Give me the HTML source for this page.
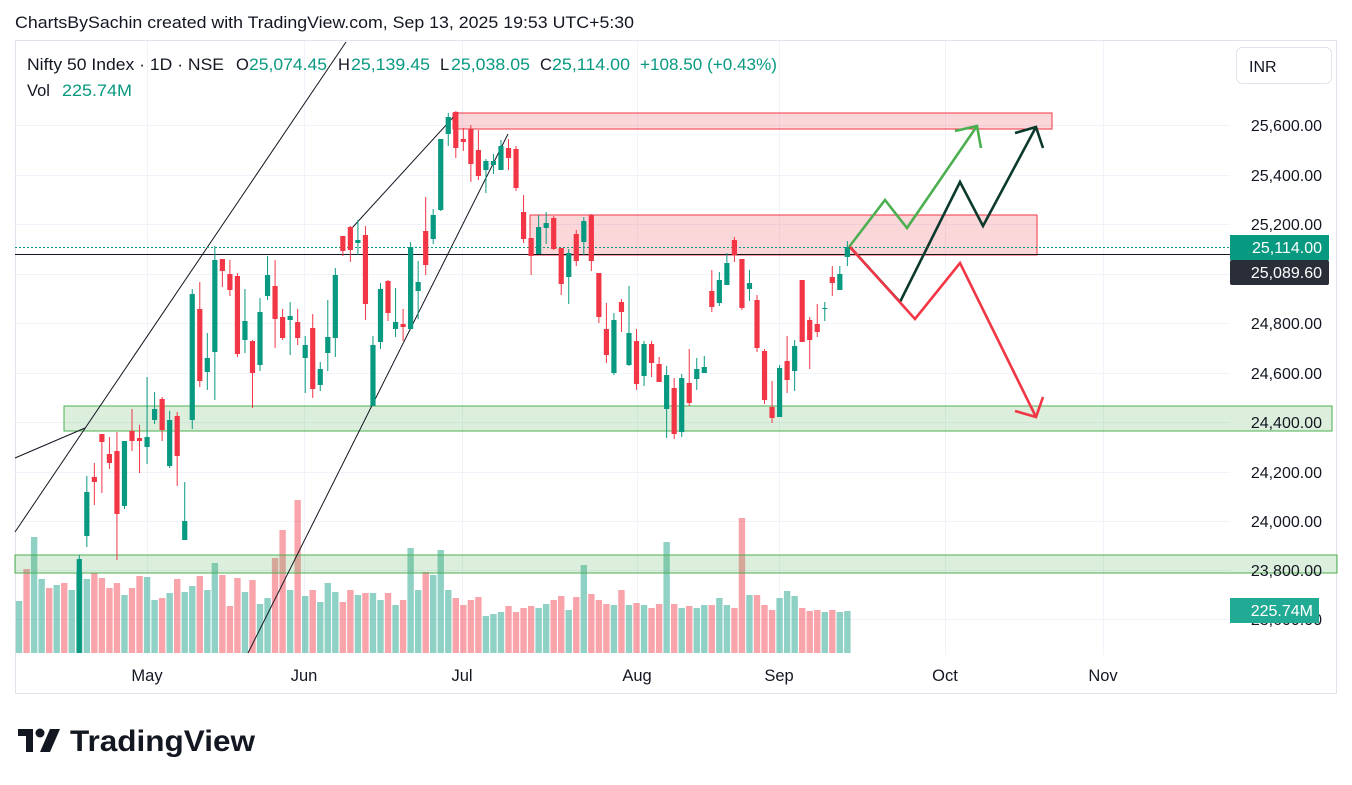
<!DOCTYPE html>
<html><head><meta charset="utf-8"><style>
body{margin:0;background:#fff;width:1352px;height:785px;overflow:hidden;font-family:"Liberation Sans",sans-serif}
svg{position:absolute;left:0;top:0}
</style></head><body>
<svg id="s" width="1352" height="785" xmlns="http://www.w3.org/2000/svg" font-family="Liberation Sans, sans-serif">
<rect x="15.5" y="40.5" width="1321" height="653" fill="#fff" stroke="#e0e3eb"/>
<g id="grid" stroke="#f0f3fa" stroke-width="1"></g>
<g id="vol"></g>
<rect x="64" y="406" width="1268" height="25" fill="rgba(76,175,80,0.2)" stroke="#4caf50" stroke-width="1"/>
<rect x="15" y="555" width="1322" height="18" fill="rgba(76,175,80,0.2)" stroke="#4caf50" stroke-width="1"/>
<rect x="453" y="113" width="599" height="16" fill="rgba(242,54,69,0.2)" stroke="#f23645" stroke-width="1"/>
<rect x="530" y="215" width="507" height="40" fill="rgba(242,54,69,0.2)" stroke="#f23645" stroke-width="1"/>
<g stroke="#131722" stroke-width="1" fill="none">
<line x1="15" y1="532" x2="346" y2="42"/>
<line x1="15" y1="458" x2="85" y2="428"/>
<line x1="352" y1="228" x2="458" y2="112"/>
<line x1="248" y1="653" x2="508" y2="134"/>
<line x1="15" y1="254.5" x2="1230" y2="254.5"/>
</g>
<line x1="15" y1="247.5" x2="1230" y2="247.5" stroke="#089981" stroke-width="1" stroke-dasharray="2,2"/>
<g id="cnd"></g>
<g fill="none" stroke-width="2.6" stroke-linejoin="miter">
<polyline points="849,247 885,200 907,228 977,126" stroke="#4caf50"/>
<polyline points="955,131 977,126 981,148" stroke="#4caf50"/>
<polyline points="850,247 900,302 960,182 983,226 1036,127" stroke="#0b3a2c"/>
<polyline points="1015,133 1036,127 1043,148" stroke="#0b3a2c"/>
<polyline points="850,247 915,319 960,263 1036,417" stroke="#f23645"/>
<polyline points="1015,411 1036,417 1043,397" stroke="#f23645"/>
</g>
<g id="pax" font-size="16" fill="#131722" text-anchor="end"></g>
<rect x="1230" y="235" width="99" height="25" fill="#089981"/>
<text x="1322" y="253" font-size="16" fill="#fff" text-anchor="end">25,114.00</text>
<rect x="1230" y="260" width="99" height="25" rx="2" fill="#2a2e39"/>
<text x="1322" y="278" font-size="16" fill="#fff" text-anchor="end">25,089.60</text>
<rect x="1230" y="598" width="89" height="25" fill="#22ab94"/>
<text x="1313" y="616" font-size="16" fill="#fff" text-anchor="end">225.74M</text>
<rect x="1236.5" y="47.5" width="95" height="36" rx="6" fill="#fff" stroke="#e0e3eb"/>
<text x="1249" y="72" font-size="16" fill="#131722">INR</text>
<g font-size="16.5" fill="#131722" text-anchor="middle">
<text x="147" y="681">May</text><text x="304" y="681">Jun</text><text x="462" y="681">Jul</text>
<text x="637" y="681">Aug</text><text x="779" y="681">Sep</text><text x="945" y="681">Oct</text><text x="1103" y="681">Nov</text>
</g>
<text x="15" y="28" font-size="17" fill="#131722" textLength="619" lengthAdjust="spacingAndGlyphs">ChartsBySachin created with TradingView.com, Sep 13, 2025 19:53 UTC+5:30</text>
<g font-size="16.5">
<text x="27" y="70" fill="#131722" textLength="197" lengthAdjust="spacingAndGlyphs">Nifty 50 Index · 1D · NSE</text>
<text x="236" y="70" fill="#131722">O</text><text x="249" y="70" fill="#089981" textLength="78" lengthAdjust="spacingAndGlyphs">25,074.45</text>
<text x="338" y="70" fill="#131722">H</text><text x="351" y="70" fill="#089981" textLength="79" lengthAdjust="spacingAndGlyphs">25,139.45</text>
<text x="440" y="70" fill="#131722">L</text><text x="451" y="70" fill="#089981" textLength="79" lengthAdjust="spacingAndGlyphs">25,038.05</text>
<text x="540" y="70" fill="#131722">C</text><text x="552" y="70" fill="#089981" textLength="78" lengthAdjust="spacingAndGlyphs">25,114.00</text>
<text x="640" y="70" fill="#089981" textLength="137" lengthAdjust="spacingAndGlyphs">+108.50 (+0.43%)</text>
<text x="27" y="96" fill="#131722">Vol</text>
<text x="62" y="96" fill="#089981" textLength="70" lengthAdjust="spacingAndGlyphs">225.74M</text>
</g>
<g fill="#131722">
<path d="M18 729h15v23h-7v-16h-8z"/><circle cx="40" cy="733" r="4.5"/><path d="M50 729h10l-10 23h-10z"/>
</g>
<text x="70" y="751" font-size="30" font-weight="bold" fill="#131722" textLength="185" lengthAdjust="spacingAndGlyphs">TradingView</text>
</svg>
<script>
var ns="http://www.w3.org/2000/svg";
function el(p,t,a){var e=document.createElementNS(ns,t);for(var k in a)e.setAttribute(k,a[k]);p.appendChild(e);return e;}
var g=document.getElementById('grid');
[125,175,224,274,323,373,422,472,521,570,619].forEach(function(y){el(g,'line',{x1:15,x2:1230,y1:y+.5,y2:y+.5});});
[147,304,462,637,779,945,1103].forEach(function(x){el(g,'line',{x1:x+.5,x2:x+.5,y1:41,y2:655});});
var pax=document.getElementById('pax');
[[125,'25,600.00'],[175,'25,400.00'],[224,'25,200.00'],[323,'24,800.00'],[373,'24,600.00'],[422,'24,400.00'],[472,'24,200.00'],[521,'24,000.00'],[570,'23,800.00'],[619,'23,600.00']].forEach(function(a){var t=el(pax,'text',{x:1322,y:a[0]+6});t.textContent=a[1];});
var C=[
['g',559,660,555,660],['g',492,536,476,547],['r',477,482,463,505],['r',434,442,434,493],['r',454,463,437,469],['r',451,514,432,560],['g',441,506,441,509],['r',431,441,409,451],['r',438,441,425,473],['g',437,447,377,464],
['g',409,420,392,424],['r',399,430,397,441],['g',420,466,411,468],['r',416,456,412,486],['g',521,540,482,540],['g',294,420,289,429],['r',309,381,282,387],['g',358,372,333,390],['g',260,352,246,400],['r',259,271,259,287],
['r',274,290,260,296],['r',276,354,273,357],['g',321,340,289,353],['r',341,373,340,408],['g',312,365,298,371],['g',275,296,256,300],['r',286,319,260,348],['r',317,338,309,340],['g',316,320,302,355],['r',322,338,309,345],
['g',345,358,336,393],['r',328,389,314,398],['g',369,385,362,391],['g',337,353,300,371],['g',275,338,268,357],['r',236,251,236,256],['r',227,250,226,262],['g',240,243,220,255],['r',235,304,226,320],['g',345,406,336,406],
['g',289,342,283,349],['r',281,313,280,321],['g',322,329,288,337],['r',324,327,309,341],['g',247,329,242,329],['g',282,291,261,319],['r',231,265,197,275],['g',215,239,209,244],['g',139,210,139,211],['g',117,134,113,146],
['r',112,148,111,158],['r',139,142,128,151],['r',129,164,125,182],['r',150,176,130,180],['g',161,170,159,193],['g',161,165,154,174],['g',146,170,140,170],['r',148,158,139,170],['r',149,188,146,191],['r',212,239,195,243],
['r',238,256,238,275],['g',227,254,215,254],['g',223,228,212,244],['r',218,249,216,250],['r',248,284,248,295],['g',253,277,249,304],['r',234,261,230,266],['g',221,242,217,255],['r',215,261,214,271],['r',273,317,273,323],
['r',329,355,303,363],['g',320,373,313,375],['r',302,312,299,332],['g',333,365,286,366],['r',341,384,329,390],['g',344,376,341,386],['r',344,363,341,377],['r',364,382,357,382],['g',375,409,366,438],['r',388,434,378,439],
['g',378,432,374,437],['r',383,403,349,406],['g',369,379,358,390],['g',367,373,356,373],['r',291,307,270,312],['g',280,303,272,306],['g',263,285,253,285],['r',240,255,237,262],['r',259,308,259,310],['g',283,289,270,301],
['r',300,348,295,352],['r',351,400,349,404],['r',407,418,381,423],['g',368,417,365,417],['r',361,380,336,393],['g',346,371,340,391],['r',280,342,280,342],['r',320,340,317,369],['r',324,332,304,337],['g',308,309,302,321],
['r',277,283,266,296],['g',274,290,266,290],['g',247,257,241,266]];
var V=[['g',601],['r',569],['g',537],['g',579],['r',588],['g',585],['r',583],['g',590],
['g',573],['g',579],['r',573],['r',578],['r',588],['r',583],['g',595],['r',588],['r',576],['g',577],['g',600],['r',598],['g',593],['r',579],['g',592],['g',586],['r',576],['g',590],['g',563],['r',575],['r',606],['r',578],['g',592],['r',580],['g',604],['g',598],['r',558],['r',530],['g',590],['r',500],['g',596],['r',590],['g',602],['g',583],['g',592],['r',602],
['r',590],['g',595],['r',593],['g',593],['g',600],['r',593],['g',605],['r',600],['g',548],['g',590],['r',572],['g',575],['g',550],['g',590],['r',598],['r',605],['r',600],['r',597],['g',616],['g',614],['g',612],['r',606],['r',612],['r',608],['r',606],['g',608],['g',604],['r',600],['r',596],['g',610],['r',597],['g',565],['r',594],['r',600],['r',604],['g',605],['r',590],['g',605],['r',603],['g',605],['r',608],['r',604],['g',542],['r',604],['g',608],['r',606],['g',608],['g',605],['r',605],['g',598],['g',605],['r',608],['r',518],['g',595],['r',595],['r',605],['r',610],['g',598],['g',591],['g',596],['r',608],['r',611],['r',610],['g',612],['r',610],['g',612],['g',611]];
var vg=document.getElementById('vol');
V.forEach(function(v,i){var x=79.3+(i-8)*7.53;el(vg,'rect',{x:x-3.2,y:v[1],width:6.4,height:653-v[1],fill:v[0]=='g'?'rgba(8,153,129,0.45)':'rgba(242,54,69,0.45)'});});
var cg=document.getElementById('cnd');
C.forEach(function(c,i){var x=79.3+i*7.53;var col=c[0]=='g'?'#089981':'#f23645';
el(cg,'line',{x1:x,x2:x,y1:c[3],y2:Math.min(c[4],653),stroke:col,'stroke-width':1});
var h=Math.max(1,Math.min(c[2],653)-c[1]);el(cg,'rect',{x:x-2.6,y:c[1],width:5.2,height:h,fill:col});});
</script>
</body></html>
